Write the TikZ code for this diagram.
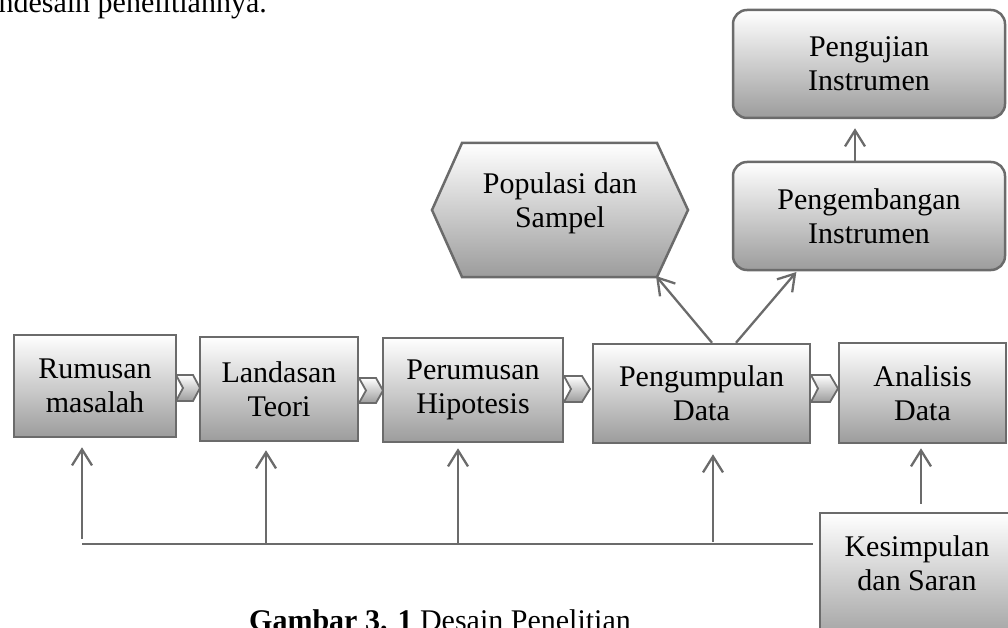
\documentclass[tikz,border=0pt]{standalone}
\usepackage{fontspec}
\setmainfont{Liberation Serif}
\usetikzlibrary{arrows.meta}
\definecolor{bd}{HTML}{6B6B6B}
\definecolor{gbot}{HTML}{9C9C9C}
\begin{document}
\begin{tikzpicture}[x=1pt,y=-1pt,
  txt/.style={align=center, font=\fontsize{30}{34}\selectfont, inner sep=0pt, text=black},
  box/.style={txt, draw=bd, line width=2.5pt, top color=white, bottom color=gbot},
  rbox/.style={box, rounded corners=14pt},
  arr/.style={draw=bd, line width=2.3pt, -{Straight Barb[length=16pt,width=20pt]}},
  ln/.style={draw=bd, line width=2.3pt},
  chev/.style={draw=bd, line width=1.8pt, top color=white, bottom color=gbot, line join=miter},
  hexa/.style={draw=bd, line width=2.5pt, top color=white, bottom color=gbot, line join=miter}]
\useasboundingbox (0,0) rectangle (1008,628);
\clip (0,0) rectangle (1008,628);

% chevrons between the main boxes
\path[chev] (176,375) -- (193,375) -- (200,388) -- (193,401) -- (176,401) -- (183,388) -- cycle;
\path[chev] (359,378) -- (376,378) -- (383,390.5) -- (376,403) -- (359,403) -- (366,390.5) -- cycle;
\path[chev] (564,376) -- (582,376) -- (590,389) -- (582,402) -- (564,402) -- (571,389) -- cycle;
\path[chev] (811,375) -- (830,375) -- (838,388.5) -- (830,402) -- (811,402) -- (818,388.5) -- cycle;

% main row
\node[box, minimum width=162pt, minimum height=102pt] (rm) at (95,386) {Rumusan\\masalah};
\node[box, minimum width=158pt, minimum height=104pt] (lt) at (279,389) {Landasan\\Teori};
\node[box, minimum width=180pt, minimum height=104pt] (ph) at (473,390) {Perumusan\\Hipotesis};
\node[box, minimum width=217pt, minimum height=99pt] (pd) at (701.5,393.5) {Pengumpulan\\Data};
\node[box, minimum width=167pt, minimum height=100pt] (ad) at (922.5,393) {Analisis\\Data};

% conclusion box (cut by the page edge)
\node[box, minimum width=194pt, minimum height=134pt] (ks) at (917,580) {};
\node[txt] (kst) at (917,563) {Kesimpulan\\dan Saran};

% hexagon
\path[hexa] (432,210) -- (462,143) -- (657,143) -- (688,210) -- (657,277) -- (462,277) -- cycle;
\node[txt] (ps) at (560,203) {Populasi dan\\Sampel};
\coordinate (psbr) at (656,276);

% instrument boxes
\node[rbox, minimum width=272pt, minimum height=108pt] (pi) at (869,216) {Pengembangan\\Instrumen};
\node[rbox, minimum width=272pt, minimum height=108pt] (pu) at (869,64) {Pengujian\\Instrumen};

% feedback line
\coordinate (hl) at (82,544);
\draw[ln, shorten >=6pt] (hl) -- (hl -| ks.west);
\coordinate (b1) at (82,539);
\coordinate (b2) at (266,544);
\coordinate (b3) at (458,544);
\coordinate (b4) at (713,542);
\coordinate (b5) at (921,0);
\draw[arr, shorten >=9pt] (b1) -- (b1 |- rm.south);
\draw[arr, shorten >=8pt] (b2) -- (b2 |- lt.south);
\draw[arr, shorten >=5pt] (b3) -- (b3 |- ph.south);
\draw[arr, shorten >=10pt] (b4) -- (b4 |- pd.south);
\draw[arr, shorten <=8pt, shorten >=4pt] (ks.north -| b5) -- (ad.south -| b5);

% upward arrows from data collection
\coordinate (p1) at (712,0);
\coordinate (p2) at (736,0);
\coordinate (p3) at (797,0);
\draw[arr] (pd.north -| p1) -- (psbr);
\draw[arr, shorten >=1pt] (pd.north -| p2) -- (pi.south -| p3);
\coordinate (p4) at (855,0);
\draw[arr, shorten >=9pt] (pi.north -| p4) -- (pu.south -| p4);

% surrounding text of the page
\node[txt, anchor=base east] (toptext) at (267,13) {ndesain penelitiannya.};
\node[txt, anchor=base west] (caption) at (249,630) {\textbf{Gambar 3. 1} Desain Penelitian};
\end{tikzpicture}
\end{document}
